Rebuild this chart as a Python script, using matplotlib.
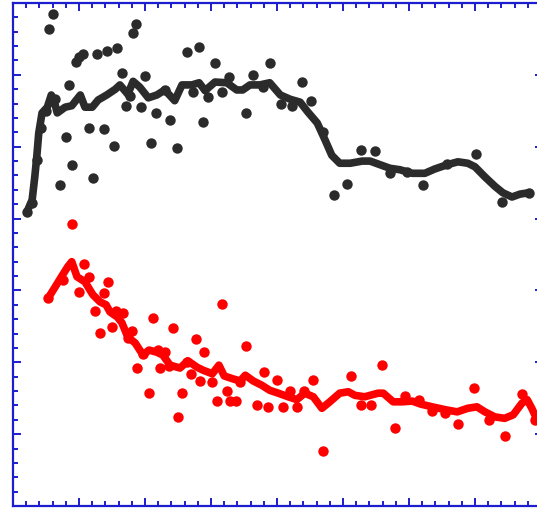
import numpy as np
import matplotlib
matplotlib.use('Agg')
import matplotlib.pyplot as plt
from matplotlib.ticker import MultipleLocator

# black series: scattered points
black_x = [2.1, 2.9, 3.6, 4.2, 5.0, 5.5, 6.1, 6.4, 7.1, 8.0, 8.5, 8.9, 9.5, 10.0, 10.6,
           11.5, 12.1, 12.7, 13.8, 14.2, 15.3, 15.8, 16.5, 17.1, 17.7, 18.2, 18.6, 19.4,
           20.0, 20.9, 21.7, 23.0, 23.8, 24.8, 26.4, 27.3, 28.2, 28.8, 29.5, 30.6, 31.7,
           32.7, 35.3, 36.4, 37.9, 38.9, 40.6, 42.3, 43.8, 45.2, 47.0, 48.6, 50.6, 52.7,
           54.8, 57.1, 59.7, 62.1, 65.8, 70.2, 74.1, 78.2]
black_y = [40.9, 42.2, 48.1, 52.6, 55.0, 66.4, 68.5, 56.6, 44.7, 51.4, 58.6, 47.5, 61.8,
           62.5, 62.9, 52.6, 45.6, 62.9, 52.5, 63.3, 50.1, 63.7, 60.3, 55.7, 57.1, 65.8,
           67.1, 55.5, 59.8, 50.5, 54.7, 57.9, 53.7, 49.8, 63.2, 57.6, 63.9, 53.4, 56.9,
           61.6, 57.6, 59.7, 54.7, 60.0, 58.3, 61.6, 55.9, 55.7, 59.0, 56.4, 52.0, 43.3,
           44.8, 49.5, 49.4, 46.3, 46.5, 44.7, 47.6, 49.0, 42.3, 43.6]

# black series: smoothed trend
black_lx = [2.1, 2.9, 3.3, 3.6, 3.9, 4.4, 5.2, 5.8, 6.2, 6.7, 7.9, 8.9, 10.2, 10.9, 12.0,
            12.9, 14.2, 15.5, 16.2, 17.4, 18.2, 19.2, 20.5, 21.8, 23.0, 24.5, 25.6, 27.1,
            28.2, 29.1, 30.6, 32.4, 33.9, 34.8, 35.9, 37.4, 38.9, 40.5, 42.0, 43.5, 44.7,
            46.1, 47.3, 48.3, 49.5, 51.1, 52.9, 54.1, 55.6, 57.1, 58.6, 60.5, 62.4, 63.9,
            65.8, 67.4, 68.9, 70.0, 71.5, 73.0, 74.2, 75.6, 76.8, 78.2]
black_ly = [40.9, 42.6, 45.8, 48.6, 51.9, 54.7, 55.5, 57.2, 56.5, 54.7, 55.5, 55.7, 57.2,
            55.5, 55.5, 56.5, 57.2, 58.0, 58.6, 57.3, 59.1, 58.3, 56.8, 57.2, 57.9, 56.4,
            58.6, 58.6, 58.9, 57.8, 59.0, 58.9, 57.9, 57.9, 58.6, 58.6, 58.9, 57.2, 56.6,
            56.2, 54.8, 53.3, 50.9, 48.8, 47.7, 47.7, 48.0, 48.0, 47.5, 47.0, 46.8, 46.3,
            46.3, 46.9, 47.5, 47.9, 47.7, 47.2, 45.8, 44.5, 43.6, 43.0, 43.4, 43.6]

# red series: scattered points
red_x = [5.3, 7.6, 8.9, 10.0, 10.8, 11.5, 12.4, 13.2, 13.8, 14.4, 15.0, 15.6, 16.7, 17.4,
         18.0, 18.8, 19.7, 20.6, 21.2, 22.0, 22.3, 23.0, 23.6, 24.2, 25.0, 25.6, 26.4,
         27.0, 27.7, 28.3, 28.9, 30.2, 30.9, 31.7, 32.4, 32.9, 33.8, 34.4, 35.3, 37.0,
         38.0, 38.6, 40.0, 40.9, 42.0, 43.0, 44.1, 45.5, 47.0, 51.2, 52.7, 54.2, 55.9,
         57.9, 59.4, 61.5, 63.5, 65.5, 67.4, 69.8, 72.1, 74.5, 77.1, 79.1]
red_y = [28.9, 31.5, 39.2, 29.8, 33.7, 31.9, 27.1, 24.1, 29.6, 31.2, 24.9, 27.1, 26.9,
         23.4, 24.4, 19.2, 21.2, 15.7, 26.2, 21.7, 19.2, 21.4, 19.5, 24.8, 12.4, 15.7,
         20.0, 18.4, 23.2, 17.4, 21.4, 17.3, 14.6, 28.1, 16.0, 14.6, 14.6, 17.3, 22.3,
         14.1, 18.6, 13.8, 17.5, 13.8, 16.0, 13.8, 16.0, 17.5, 7.7, 18.1, 14.1, 14.1,
         19.6, 10.9, 15.3, 14.8, 13.2, 12.9, 11.4, 16.4, 12.0, 9.7, 15.6, 12.0]

# red series: smoothed trend
red_lx = [5.3, 6.4, 7.4, 8.3, 8.9, 9.7, 10.9, 12.1, 13.2, 14.1, 14.7, 15.8, 16.5, 17.4,
          18.5, 19.7, 20.6, 21.8, 22.7, 23.8, 25.3, 26.5, 27.9, 28.8, 30.2, 31.2, 32.0,
          33.3, 34.4, 35.2, 36.4, 37.7, 38.9, 40.2, 41.7, 43.0, 44.2, 45.5, 46.8, 48.0,
          49.5, 50.8, 51.8, 53.3, 55.3, 56.1, 57.6, 58.9, 60.5, 61.7, 63.5, 65.5, 67.3,
          68.9, 70.3, 71.5, 73.0, 74.5, 75.8, 77.1, 77.9, 78.6, 79.4]
red_ly = [28.9, 30.5, 32.0, 33.3, 34.0, 31.9, 31.2, 29.4, 28.4, 28.0, 27.0, 26.3, 25.5,
          23.5, 22.7, 21.0, 21.7, 21.4, 21.0, 19.6, 19.2, 20.2, 19.3, 18.9, 18.4, 19.6,
          18.1, 17.7, 17.4, 18.2, 17.4, 16.8, 16.1, 15.7, 15.2, 14.8, 15.7, 15.2, 13.6,
          14.5, 15.7, 15.9, 15.4, 15.2, 15.7, 15.7, 14.5, 14.5, 14.6, 14.2, 13.8, 13.4,
          13.1, 13.6, 13.8, 13.1, 12.4, 12.2, 12.7, 14.3, 14.8, 13.6, 12.0]

axis_blue = '#1c1cd0'
dark = '#2b2b2b'

fig = plt.figure(figsize=(5.37, 5.12), dpi=100)
# right spine sits just past the picture edge, as in the original crop
ax = fig.add_axes([13 / 537, 6 / 512, 530 / 537, 503 / 512])

ax.plot(black_x, black_y, 'o', color=dark, ms=7.5, mec='none', zorder=2)
ax.plot(black_lx, black_ly, '-', color=dark, lw=5.5, solid_capstyle='round',
        solid_joinstyle='round', zorder=3)
ax.plot(red_x, red_y, 'o', color='#ff0000', ms=7.5, mec='none', zorder=2)
ax.plot(red_lx, red_ly, '-', color='#ff0000', lw=5.5, solid_capstyle='round',
        solid_joinstyle='round', zorder=3)

ax.set_xlim(0, 80.3)
ax.set_ylim(0, 70)
ax.xaxis.set_major_locator(MultipleLocator(10))
ax.xaxis.set_minor_locator(MultipleLocator(2))
ax.yaxis.set_major_locator(MultipleLocator(10))
ax.yaxis.set_minor_locator(MultipleLocator(2))
ax.tick_params(which='both', direction='in', top=True, right=True,
               labelbottom=False, labelleft=False, color=axis_blue, width=1.4)
ax.tick_params(which='major', length=6)
ax.tick_params(which='minor', length=3.5)
for s in ax.spines.values():
    s.set_color(axis_blue)
    s.set_linewidth(1.6)

fig.savefig('out.png', dpi=100)
